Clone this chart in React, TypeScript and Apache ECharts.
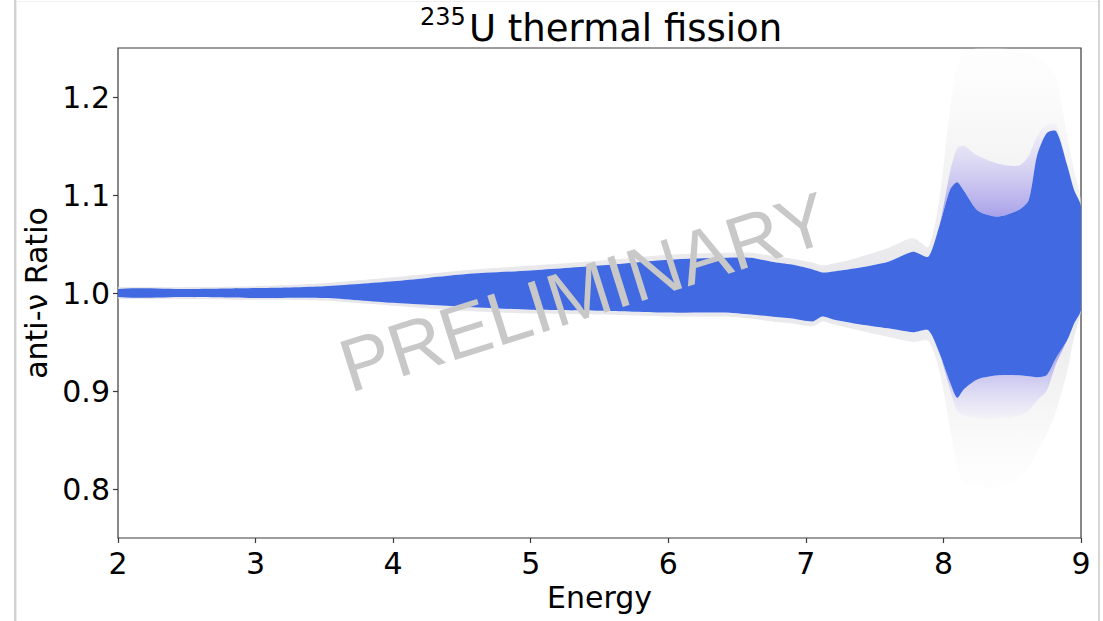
import React, { useEffect, useRef } from "react";
import * as echarts from "echarts";

// ---- data ----
const energy = [2.0, 2.5, 3.0, 3.5, 4.0, 4.5, 5.0, 5.5, 6.0, 6.4, 6.6, 6.75, 6.9, 7.05, 7.12, 7.2, 7.35, 7.6, 7.78, 7.89, 7.97, 8.05, 8.1, 8.15, 8.25, 8.4, 8.55, 8.62, 8.68, 8.75, 8.82, 8.9, 8.95, 9.0];

const blueLow = [0.996, 0.996, 0.995, 0.995, 0.990, 0.986, 0.983, 0.982, 0.980, 0.980, 0.978, 0.976, 0.974, 0.971, 0.976, 0.973, 0.969, 0.964, 0.960, 0.962, 0.939, 0.908, 0.893, 0.902, 0.912, 0.916, 0.916, 0.915, 0.914, 0.916, 0.934, 0.952, 0.969, 0.983];
const blueHigh = [1.004, 1.004, 1.005, 1.007, 1.012, 1.019, 1.023, 1.028, 1.034, 1.036, 1.036, 1.032, 1.029, 1.024, 1.021, 1.022, 1.025, 1.032, 1.042, 1.037, 1.068, 1.106, 1.113, 1.104, 1.084, 1.078, 1.085, 1.095, 1.140, 1.163, 1.165, 1.130, 1.105, 1.088];

const fadeLow = [0.996, 0.996, 0.995, 0.995, 0.990, 0.986, 0.983, 0.982, 0.980, 0.980, 0.978, 0.976, 0.974, 0.971, 0.976, 0.973, 0.969, 0.964, 0.960, 0.962, 0.939, 0.900, 0.880, 0.875, 0.872, 0.872, 0.875, 0.880, 0.890, 0.900, 0.928, 0.952, 0.969, 0.983];
const fadeHigh = [1.004, 1.004, 1.005, 1.007, 1.012, 1.019, 1.023, 1.028, 1.034, 1.036, 1.036, 1.032, 1.029, 1.024, 1.021, 1.022, 1.025, 1.032, 1.042, 1.037, 1.068, 1.125, 1.148, 1.150, 1.140, 1.132, 1.130, 1.140, 1.160, 1.172, 1.172, 1.130, 1.105, 1.088];

const greyLow = [0.994, 0.994, 0.993, 0.992, 0.987, 0.982, 0.979, 0.978, 0.976, 0.976, 0.974, 0.971, 0.969, 0.966, 0.971, 0.968, 0.963, 0.955, 0.950, 0.951, 0.921, 0.860, 0.823, 0.806, 0.802, 0.802, 0.812, 0.822, 0.838, 0.855, 0.880, 0.920, 0.955, 0.980];
const greyHigh = [1.006, 1.006, 1.007, 1.010, 1.016, 1.023, 1.028, 1.033, 1.039, 1.041, 1.041, 1.038, 1.035, 1.031, 1.028, 1.030, 1.035, 1.046, 1.056, 1.047, 1.095, 1.190, 1.230, 1.245, 1.250, 1.250, 1.248, 1.245, 1.240, 1.232, 1.220, 1.160, 1.125, 1.095];

const xTicks = [2, 3, 4, 5, 6, 7, 8, 9];
const yTicks = [0.8, 0.9, 1.0, 1.1, 1.2];

const titleSup = "235";
const titleMain = "U thermal fission";
const xName = "Energy";
const yName = "anti-\u03bd Ratio";
const watermark = "PRELIMINARY";

const FONT = "DejaVu Sans";

function bandSeries(name: string, lower: number[], upper: number[], fill: any, z: number) {
  return {
    type: "custom",
    name,
    silent: true,
    z,
    encode: { x: 0, y: [1, 2] },
    data: energy.map((e, i) => [e, lower[i], upper[i]]),
    renderItem: (params: any, api: any) => {
      if (params.dataIndex !== 0) return null;
      const pts: number[][] = [];
      for (let i = 0; i < energy.length; i++) pts.push(api.coord([energy[i], upper[i]]));
      for (let i = energy.length - 1; i >= 0; i--) pts.push(api.coord([energy[i], lower[i]]));
      const cs = params.coordSys;
      return {
        type: "polygon",
        shape: { points: pts, smooth: 0.25 },
        style: { fill, stroke: null },
        clipPath: { type: "rect", shape: { x: cs.x, y: cs.y, width: cs.width, height: cs.height } },
      };
    },
  };
}

export default function App() {
  const ref = useRef<HTMLDivElement>(null);

  useEffect(() => {
    if (!ref.current) return;
    const chart = echarts.init(ref.current, undefined, { renderer: "svg" });
    const LG = echarts.graphic.LinearGradient;

    chart.setOption({
      animation: false,
      backgroundColor: "#ffffff",
      grid: {
        left: 118,
        right: 22,
        top: 48,
        bottom: 83,
        show: true,
        borderColor: "#3a3a3a",
        borderWidth: 1.2,
        containLabel: false,
        outerBoundsMode: "none",
      },
      xAxis: {
        type: "value",
        min: 2,
        max: 9,
        interval: 1,
        name: xName,
        nameLocation: "middle",
        nameGap: 42,
        nameTextStyle: { fontFamily: FONT, fontSize: 30, color: "#000" },
        axisLine: { show: false },
        axisTick: { show: true, length: 5, lineStyle: { color: "#3a3a3a", width: 1.2 } },
        axisLabel: {
          fontFamily: FONT,
          fontSize: 30,
          color: "#000",
          margin: 10,
          customValues: xTicks,
          formatter: (v: number) => String(v),
        },
        splitLine: { show: false },
      },
      yAxis: {
        type: "value",
        min: 0.75,
        max: 1.25,
        name: yName,
        nameLocation: "middle",
        nameGap: 62,
        nameRotate: 90,
        nameTextStyle: { fontFamily: FONT, fontSize: 30, color: "#000" },
        axisLine: { show: false },
        axisTick: { show: true, length: 5, customValues: yTicks, lineStyle: { color: "#3a3a3a", width: 1.2 } },
        axisLabel: {
          fontFamily: FONT,
          fontSize: 30,
          color: "#000",
          margin: 8,
          customValues: yTicks,
          formatter: (v: number) => v.toFixed(1),
        },
        splitLine: { show: false },
      },
      series: [
        bandSeries(
          "greyLow",
          greyLow,
          fadeLow,
          new LG(0, 0, 0, 1, [
            { offset: 0, color: "rgba(222,222,228,0.75)" },
            { offset: 0.55, color: "rgba(236,236,236,0.55)" },
            { offset: 1, color: "rgba(250,250,250,0.25)" },
          ]),
          2
        ),
        bandSeries(
          "greyHigh",
          fadeHigh,
          greyHigh,
          new LG(0, 0, 0, 1, [
            { offset: 0, color: "rgba(250,250,250,0.25)" },
            { offset: 0.45, color: "rgba(236,236,236,0.55)" },
            { offset: 1, color: "rgba(222,222,228,0.75)" },
          ]),
          2
        ),
        bandSeries(
          "fadeLow",
          fadeLow,
          blueLow,
          new LG(0, 0, 0, 1, [
            { offset: 0, color: "rgba(80,92,222,0.95)" },
            { offset: 0.45, color: "rgba(135,125,225,0.7)" },
            { offset: 1, color: "rgba(225,222,238,0.4)" },
          ]),
          3
        ),
        bandSeries(
          "fadeHigh",
          blueHigh,
          fadeHigh,
          new LG(0, 0, 0, 1, [
            { offset: 0, color: "rgba(225,222,238,0.4)" },
            { offset: 0.55, color: "rgba(135,125,225,0.7)" },
            { offset: 1, color: "rgba(80,92,222,0.95)" },
          ]),
          3
        ),
        bandSeries("blue", blueLow, blueHigh, "#4169E1", 4),
      ],
      graphic: [
        { type: "rect", z: -10, silent: true, shape: { x: 14, y: 0, width: 2, height: 621 }, style: { fill: "#d2d2d2" } },
        { type: "rect", z: -10, silent: true, shape: { x: 16, y: 0, width: 1, height: 621 }, style: { fill: "#ececec" } },
        { type: "rect", z: -10, silent: true, shape: { x: 1098, y: 0, width: 2, height: 621 }, style: { fill: "#d6d6d6" } },
        { type: "rect", z: -10, silent: true, shape: { x: 16, y: 1, width: 1082, height: 1 }, style: { fill: "#efefef" } },
        {
          type: "text",
          z: 50,
          silent: true,
          x: 420,
          y: 16.7,
          style: {
            text: titleSup,
            fontFamily: FONT,
            fontSize: 24,
            fill: "#000",
            textAlign: "left",
            textVerticalAlign: "middle",
          },
        },
        {
          type: "text",
          z: 50,
          silent: true,
          x: 469,
          y: 28.5,
          style: {
            text: titleMain,
            fontFamily: FONT,
            fontSize: 37,
            fill: "#000",
            textAlign: "left",
            textVerticalAlign: "middle",
          },
        },
        {
          type: "text",
          z: 100,
          silent: true,
          x: 584,
          y: 292,
          rotation: (17.5 * Math.PI) / 180,
          style: {
            text: watermark,
            fontFamily: "Liberation Sans",
            fontSize: 75,
            fill: "#c8c8c8",
            textAlign: "center",
            textVerticalAlign: "middle",
          },
        },
      ],
    });

    return () => chart.dispose();
  }, []);

  return (
    <div
      ref={ref}
      style={{ position: "fixed", left: 0, top: 0, width: 1103, height: 621, background: "#fff" }}
    />
  );
}
